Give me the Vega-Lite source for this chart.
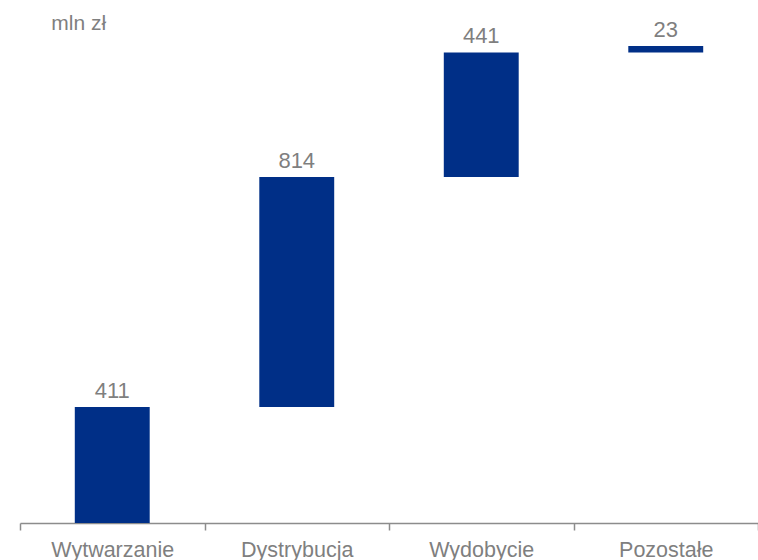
{
  "$schema": "https://vega.github.io/schema/vega-lite/v6.json",
  "autosize": {"type": "none"},
  "width": 738,
  "height": 483,
  "padding": {"left": 20, "right": 0, "top": 40, "bottom": 37},
  "background": "white",
  "config": {"view": {"stroke": null}, "font": "Liberation Sans"},
  "title": {"text": "mln zł", "anchor": "start", "dx": 32, "offset": -32, "baseline": "alphabetic", "fontSize": 21, "fontWeight": "normal", "color": "#7f7f7f", "font": "Liberation Sans"},
  "data": {"values": [
    {"segment": "Wytwarzanie", "start": 0, "end": 411, "value": 411},
    {"segment": "Dystrybucja", "start": 411, "end": 1225, "value": 814},
    {"segment": "Wydobycie", "start": 1225, "end": 1666, "value": 441},
    {"segment": "Pozostałe", "start": 1666, "end": 1689, "value": 23}
  ]},
  "encoding": {
    "x": {"field": "segment", "type": "nominal", "sort": null,
      "scale": {"paddingInner": 0, "paddingOuter": 0},
      "axis": {"title": null, "labelAngle": 0, "labelFontSize": 21.5, "labelColor": "#7f7f7f", "labelFont": "Liberation Sans",
        "domainColor": "#8c8c8c", "domainWidth": 1.5, "tickColor": "#8c8c8c", "tickWidth": 1.5, "tickSize": 7, "tickBand": "extent", "labelPadding": 9, "grid": false}}
  },
  "layer": [
    {"mark": {"type": "bar", "color": "#002f87", "width": {"band": 0.406}},
     "encoding": {
       "y": {"field": "start", "type": "quantitative", "scale": {"domain": [0, 1710], "nice": false}, "axis": null},
       "y2": {"field": "end"}
     }},
    {"mark": {"type": "text", "dy": -9, "baseline": "alphabetic", "fontSize": 22, "color": "#7f7f7f", "font": "Liberation Sans"},
     "encoding": {
       "y": {"field": "end", "type": "quantitative"},
       "text": {"field": "value", "type": "quantitative"}
     }}
  ]
}
